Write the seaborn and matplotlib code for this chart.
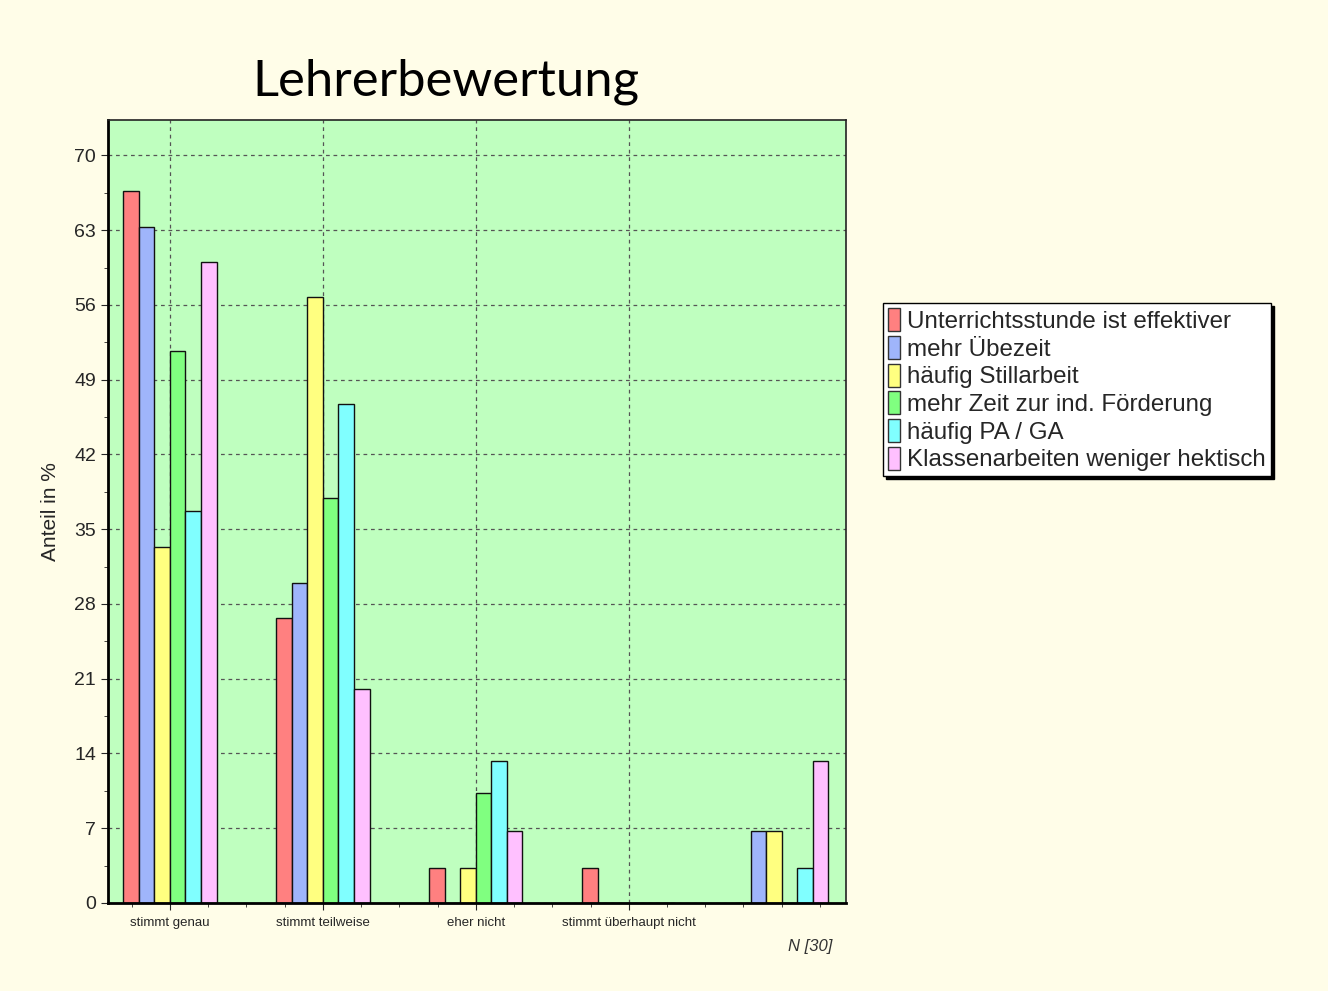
import numpy as np
import pandas as pd
import matplotlib
matplotlib.use("Agg")
import matplotlib.pyplot as plt
import seaborn as sns
from matplotlib.ticker import MultipleLocator
from matplotlib.patches import Patch

# data (percent, N=30)
categories = ['stimmt genau', 'stimmt teilweise', 'eher nicht', 'stimmt überhaupt nicht', ' ']
series = ['Unterrichtsstunde ist effektiver', 'mehr Übezeit', 'häufig Stillarbeit',
          'mehr Zeit zur ind. Förderung', 'häufig PA / GA', 'Klassenarbeiten weniger hektisch']
effektiver = [66.7, 26.7, 3.3, 3.3, 0]
uebezeit = [63.3, 30.0, 0, 0, 6.7]
stillarbeit = [33.3, 56.7, 3.3, 0, 6.7]
foerderung = [51.7, 37.9, 10.3, 0, 0]
pa_ga = [36.7, 46.7, 13.3, 0, 3.3]
klassenarbeiten = [60.0, 20.0, 6.7, 0, 13.3]
colors = ['#ff8080', '#9fb5fb', '#ffff80', '#80ff80', '#80ffff', '#ffc0ff']

values = [effektiver, uebezeit, stillarbeit, foerderung, pa_ga, klassenarbeiten]
df = pd.DataFrame({
    'Kategorie': np.tile(categories, len(series)),
    'Serie': np.repeat(series, len(categories)),
    'Anteil': np.concatenate(values),
})

sns.set_style("white")
plt.rcParams['font.family'] = ['Liberation Sans', 'DejaVu Sans']

fig = plt.figure(figsize=(13.28, 9.91), dpi=100, facecolor='#fffde8')
ax = fig.add_axes([0.0813, 0.0888, 0.5557, 0.790])
ax.set_facecolor('#bfffbf')

sns.barplot(data=df, x='Kategorie', y='Anteil', hue='Serie', order=categories,
            hue_order=series, palette=colors, width=0.61, edgecolor='#111111',
            linewidth=1.0, saturation=1, legend=False, ax=ax)

ax.set_xlim(-0.405, 4.42)
ax.set_ylim(0, 73.3)
ax.yaxis.set_major_locator(MultipleLocator(7))
ax.yaxis.set_minor_locator(MultipleLocator(3.5))
ax.xaxis.set_minor_locator(MultipleLocator(0.25))
ax.set_xticks(range(4))
ax.set_xticklabels(categories[:4], fontsize=9.5)
ax.tick_params(axis='y', which='major', labelsize=14, length=5, direction='out', left=True)
ax.tick_params(axis='y', which='minor', length=3, direction='out', left=True)
ax.tick_params(axis='x', which='major', length=5, direction='out', bottom=True, pad=5)
ax.tick_params(axis='x', which='minor', length=3, direction='out', bottom=True)
ax.grid(True, which='major', color='#555555', linestyle=(0, (3, 3)), linewidth=0.9)
ax.set_axisbelow(True)
for s in ['left', 'bottom']:
    ax.spines[s].set_linewidth(2)
    ax.spines[s].set_color('black')
for s in ['top', 'right']:
    ax.spines[s].set_linewidth(1.2)
    ax.spines[s].set_color('#222222')

ax.set_xlabel('')
ax.set_ylabel('Anteil in %', fontsize=15, labelpad=10)

fig.text(0.336, 0.918, 'Lehrerbewertung', fontsize=36.5, family='Lato', ha='center',
         va='center', color='black')
fig.text(0.627, 0.04, 'N [30]', fontsize=12, style='italic', color='#333333', ha='right')

handles = [Patch(facecolor=c, edgecolor='#333333', label=s) for c, s in zip(colors, series)]
leg = fig.legend(handles=handles, loc='upper left', bbox_to_anchor=(0.665, 0.694),
                 fontsize=17.4, frameon=True, fancybox=False, shadow={'color': 'black', 'alpha': 1},
                 handlelength=0.5, handleheight=1.1, handletextpad=0.3, labelspacing=0.12,
                 borderpad=0.2, borderaxespad=0)
leg.get_frame().set_edgecolor('black')
leg.get_frame().set_linewidth(1)
leg.get_frame().set_facecolor('white')

fig.savefig('out.png', dpi=100, facecolor=fig.get_facecolor())
